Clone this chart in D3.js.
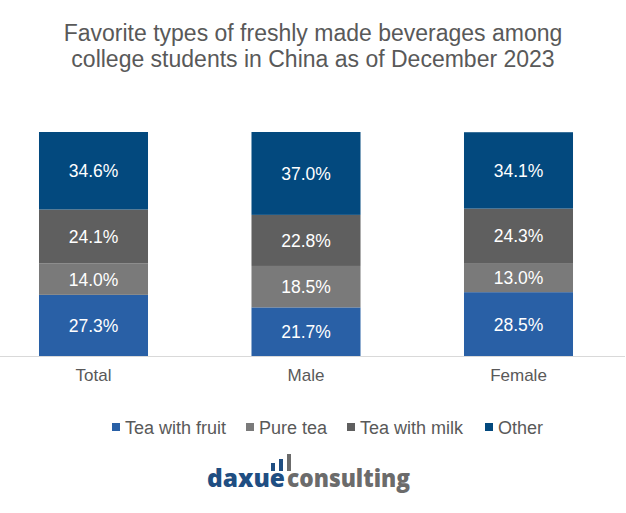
<!DOCTYPE html>
<html><head><meta charset="utf-8">
<script src="https://cdn.jsdelivr.net/npm/d3@7"></script>
<style>body{margin:0;background:#fff}svg{display:block}</style>
</head><body><svg id="c" width="626" height="513"></svg>
<script>
const categories = ["Total", "Male", "Female"];
const seriesNames = ["Tea with fruit", "Pure tea", "Tea with milk", "Other"];
const teaWithFruit = [27.3, 21.7, 28.5];
const pureTea = [14.0, 18.5, 13.0];
const teaWithMilk = [24.1, 22.8, 24.3];
const other = [34.6, 37.0, 34.1];
const colors = ["#2960a6", "#7a7a7a", "#5f5f5f", "#03497e"];
const titleLines = ["Favorite types of freshly made beverages among", "college students in China as of December 2023"];

const seriesValues = [teaWithFruit, pureTea, teaWithMilk, other];
const rows = categories.map((c, i) => {
  const r = {cat: c};
  seriesNames.forEach((s, j) => r[s] = seriesValues[j][i]);
  return r;
});
const stacked = d3.stack().keys(seriesNames)(rows);

const svg = d3.select("#c");
const font = "'Liberation Sans', Arial, sans-serif";

const x = d3.scaleBand().domain(categories).range([-12.75, 624.75]).paddingInner(0.487).paddingOuter(0.2435);
const y = d3.scaleLinear().domain([0, 100]).range([356, 132]);

svg.append("g").selectAll("text").data(titleLines).join("text")
  .attr("x", 313).attr("y", (d, i) => 41 + i * 26)
  .attr("text-anchor", "middle").attr("font-family", font).attr("font-size", 23)
  .attr("fill", "#595959").text(d => d);

const g = svg.append("g");
stacked.forEach((s, j) => {
  g.append("g").selectAll("rect").data(s).join("rect")
    .attr("x", d => x(d.data.cat)).attr("width", x.bandwidth())
    .attr("y", d => y(d[1])).attr("height", d => y(d[0]) - y(d[1]))
    .attr("fill", colors[j]);
  g.append("g").selectAll("text").data(s).join("text")
    .attr("x", d => x(d.data.cat) + x.bandwidth() / 2)
    .attr("y", d => (y(d[0]) + y(d[1])) / 2 + 6.5)
    .attr("text-anchor", "middle").attr("font-family", font).attr("font-size", 17.5)
    .attr("fill", "#ffffff").text(d => d3.format(".1f")(d[1] - d[0]) + "%");
});

// baseline axis
svg.append("line").attr("x1", 0).attr("x2", 625).attr("y1", 356.5).attr("y2", 356.5)
  .attr("stroke", "#d9d9d9").attr("stroke-width", 1);

const ax = svg.append("g").attr("transform", "translate(0,356)")
  .call(d3.axisBottom(x).tickSize(0).tickPadding(13));
ax.select(".domain").remove();
ax.selectAll("text").attr("font-family", font).attr("font-size", 17).attr("fill", "#595959");

// legend
const legendX = [112, 246, 347, 485];
const lg = svg.append("g").selectAll("g").data(seriesNames).join("g")
  .attr("transform", (d, i) => `translate(${legendX[i]},427)`);
lg.append("rect").attr("x", 0).attr("y", -4).attr("width", 8).attr("height", 8).attr("fill", (d, i) => colors[i]);
lg.append("text").attr("x", 13).attr("y", 6.5).attr("font-family", font).attr("font-size", 18)
  .attr("fill", "#595959").text(d => d);

// logo
const logo = svg.append("g");
const logoFont = "'Open Sans', 'Noto Sans', sans-serif";
logo.append("text").attr("x", 207).attr("y", 487).attr("font-family", logoFont).attr("font-weight", 800)
  .attr("font-size", 24).attr("fill", "#1f4e82").attr("textLength", 78).attr("lengthAdjust", "spacingAndGlyphs").text("daxue");
logo.append("text").attr("x", 287).attr("y", 487).attr("font-family", logoFont).attr("font-weight", 800)
  .attr("font-size", 24).attr("fill", "#6b6b6b").attr("textLength", 123).attr("lengthAdjust", "spacingAndGlyphs").text("consulting");
const logoBars = [{x: 271, top: 463, c: "#1f4e82"}, {x: 279, top: 459, c: "#1f4e82"}, {x: 287, top: 454, c: "#6b6b6b"}];
logo.selectAll("rect").data(logoBars).join("rect")
  .attr("x", d => d.x).attr("y", d => d.top).attr("width", 4).attr("height", d => 471 - d.top).attr("fill", d => d.c);
</script></body></html>
